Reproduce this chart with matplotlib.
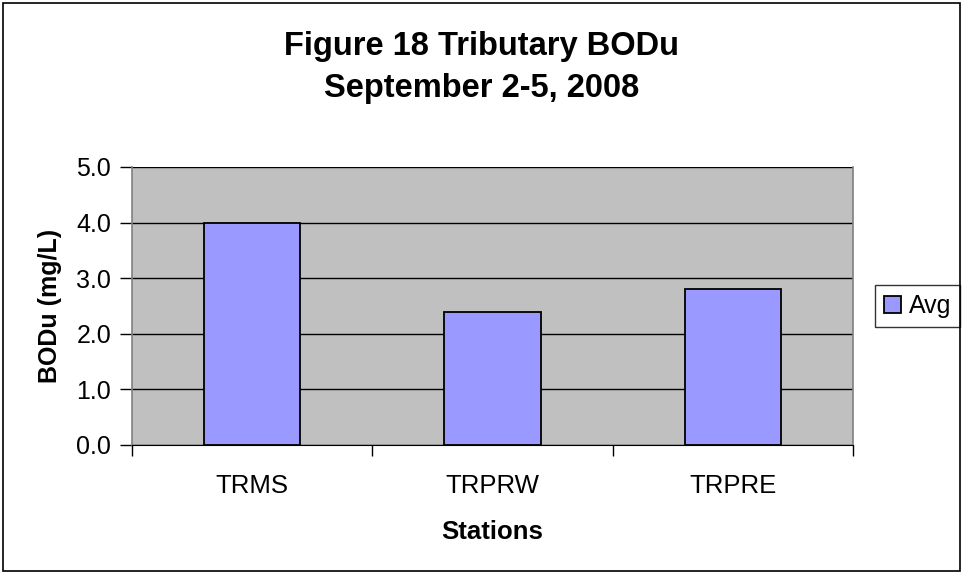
import matplotlib
matplotlib.use("Agg")
import matplotlib.pyplot as plt
from matplotlib.patches import Rectangle

categories = ["TRMS", "TRPRW", "TRPRE"]
avg_values = [4.0, 2.4, 2.8]
y_ticks = [0.0, 1.0, 2.0, 3.0, 4.0, 5.0]
series_name = "Avg"

plt.rcParams['font.family'] = ['Liberation Sans', 'DejaVu Sans']

W, H = 963, 573
fig = plt.figure(figsize=(W/100, H/100), dpi=100)
fig.patch.set_facecolor("white")

# figure border
fig.add_artist(Rectangle((3/W, 2/H), (W-6)/W, (H-5)/H, transform=fig.transFigure,
                         fill=False, edgecolor="black", linewidth=1.2))

left, right, top, bottom = 132, 853, 167, 445
ax = fig.add_axes([left/W, 1-bottom/H, (right-left)/W, (bottom-top)/H])
ax.set_facecolor("#C0C0C0")

x = list(range(len(categories)))
ax.bar(x, avg_values, width=0.4, color="#9999FF", edgecolor="black", linewidth=1.3,
       label=series_name, zorder=3)

ax.set_xlim(-0.5, len(categories)-0.5)
ax.set_ylim(0, 5.0)
ax.set_yticks(y_ticks)
ax.set_yticklabels([f"{v:.1f}" for v in y_ticks], fontsize=18)
ax.yaxis.grid(True, color="black", linewidth=1.0, zorder=1)
ax.set_axisbelow(True)

ax.set_xticks(x)
ax.set_xticklabels(categories, fontsize=18.5)
ax.tick_params(axis='x', length=0, pad=21)
# category boundary ticks
ax.set_xticks([i - 0.5 for i in range(len(categories)+1)], minor=True)
ax.tick_params(axis='x', which='minor', length=8, width=1, color="black")
ax.tick_params(axis='y', length=9, width=1, color="black", pad=6)

for s in ["left", "right", "top"]:
    ax.spines[s].set_color("#808080")
    ax.spines[s].set_linewidth(1.2)
ax.spines["top"].set_visible(False)
ax.spines["bottom"].set_color("black")

ax.set_xlabel("Stations", fontsize=18.5, fontweight="bold", labelpad=16)
ax.set_ylabel("BODu (mg/L)", fontsize=18, fontweight="bold", labelpad=10)

fig.text(0.5, 1-46/H, "Figure 18 Tributary BODu", ha="center", va="center",
         fontsize=23.5, fontweight="bold")
fig.text(0.5, 1-88/H, "September 2-5, 2008", ha="center", va="center",
         fontsize=23.5, fontweight="bold")

leg = ax.legend(loc="center left", bbox_to_anchor=(875/W, 1-306/H), bbox_transform=fig.transFigure,
                frameon=True, fancybox=False, fontsize=18, handlelength=0.7, handleheight=0.7,
                handletextpad=0.3, borderpad=0.35, borderaxespad=0)
leg.get_frame().set_edgecolor("black")
leg.get_frame().set_linewidth(1.0)

fig.savefig("out.png", dpi=100, facecolor="white")
